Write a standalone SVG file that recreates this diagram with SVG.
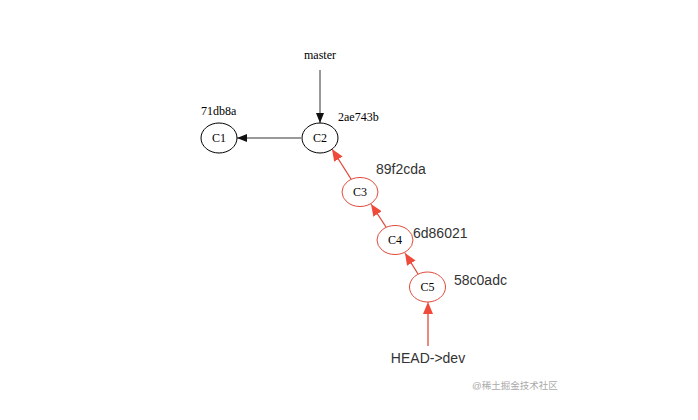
<svg xmlns="http://www.w3.org/2000/svg" width="698" height="420" viewBox="0 0 698 420">
<style>
.bk{fill:#fff;stroke:#000;stroke-width:1}
.rd{fill:#fff;stroke:#e04a3a;stroke-width:1}
.st{font-family:"Liberation Serif",serif;font-size:12px;fill:#000}
.sn{font-family:"Liberation Sans",Arial,sans-serif;font-size:14px;fill:#333}
.lb{font-family:"Liberation Serif",serif;font-size:12px;fill:#000;text-anchor:middle}
.bl{stroke:#333;stroke-width:1;fill:none}
.rl{stroke:#e04a3a;stroke-width:1.3;fill:none}
</style>
<defs>
<marker id="ab" markerWidth="10" markerHeight="8" refX="10" refY="4" orient="auto" markerUnits="userSpaceOnUse"><path d="M0,0L10,4L0,8z" fill="#111"/></marker>
<marker id="ar" markerWidth="10" markerHeight="10" refX="12" refY="5" orient="auto" markerUnits="userSpaceOnUse"><path d="M0,0L12,5L0,10z" fill="#f04a3a"/></marker>
</defs>
<rect width="698" height="420" fill="#fff"/>
<g id="connectors">
<line class="bl" x1="320" y1="70" x2="320" y2="123" marker-end="url(#ab)"/>
<line class="bl" x1="301" y1="138" x2="237" y2="138" marker-end="url(#ab)"/>
<line class="rl" x1="351" y1="179" x2="332" y2="149" marker-end="url(#ar)"/>
<line class="rl" x1="386" y1="227" x2="371" y2="204" marker-end="url(#ar)"/>
<line class="rl" x1="418" y1="274" x2="405" y2="253" marker-end="url(#ar)"/>
<line class="rl" x1="428" y1="346" x2="428" y2="302" marker-end="url(#ar)"/>
</g>
<g id="master"><text class="st" x="320" y="59" text-anchor="middle">master</text></g>
<g id="C1"><ellipse class="bk" cx="219" cy="138" rx="18" ry="15"/><text class="lb" x="219" y="142">C1</text><text class="st" x="201" y="115">71db8a</text></g>
<g id="C2"><ellipse class="bk" cx="320" cy="138" rx="18" ry="15"/><text class="lb" x="320" y="142">C2</text><text class="st" x="338" y="121">2ae743b</text></g>
<g id="C3"><ellipse class="rd" cx="360" cy="192" rx="18" ry="14.5"/><text class="lb" x="360" y="196">C3</text><text class="sn" x="376" y="174">89f2cda</text></g>
<g id="C4"><ellipse class="rd" cx="395" cy="240" rx="18" ry="14.5"/><text class="lb" x="395" y="244">C4</text><text class="sn" x="413" y="238">6d86021</text></g>
<g id="C5"><ellipse class="rd" cx="427.5" cy="287" rx="18" ry="15"/><text class="lb" x="427.5" y="291">C5</text><text class="sn" x="454" y="285">58c0adc</text></g>
<g id="head"><text class="sn" x="428" y="363" text-anchor="middle">HEAD-&gt;dev</text></g>
<text x="472" y="389" font-family="'Liberation Sans','Noto Sans CJK SC',sans-serif" font-size="9.5" fill="#aaa">@稀土掘金技术社区</text>
</svg>
